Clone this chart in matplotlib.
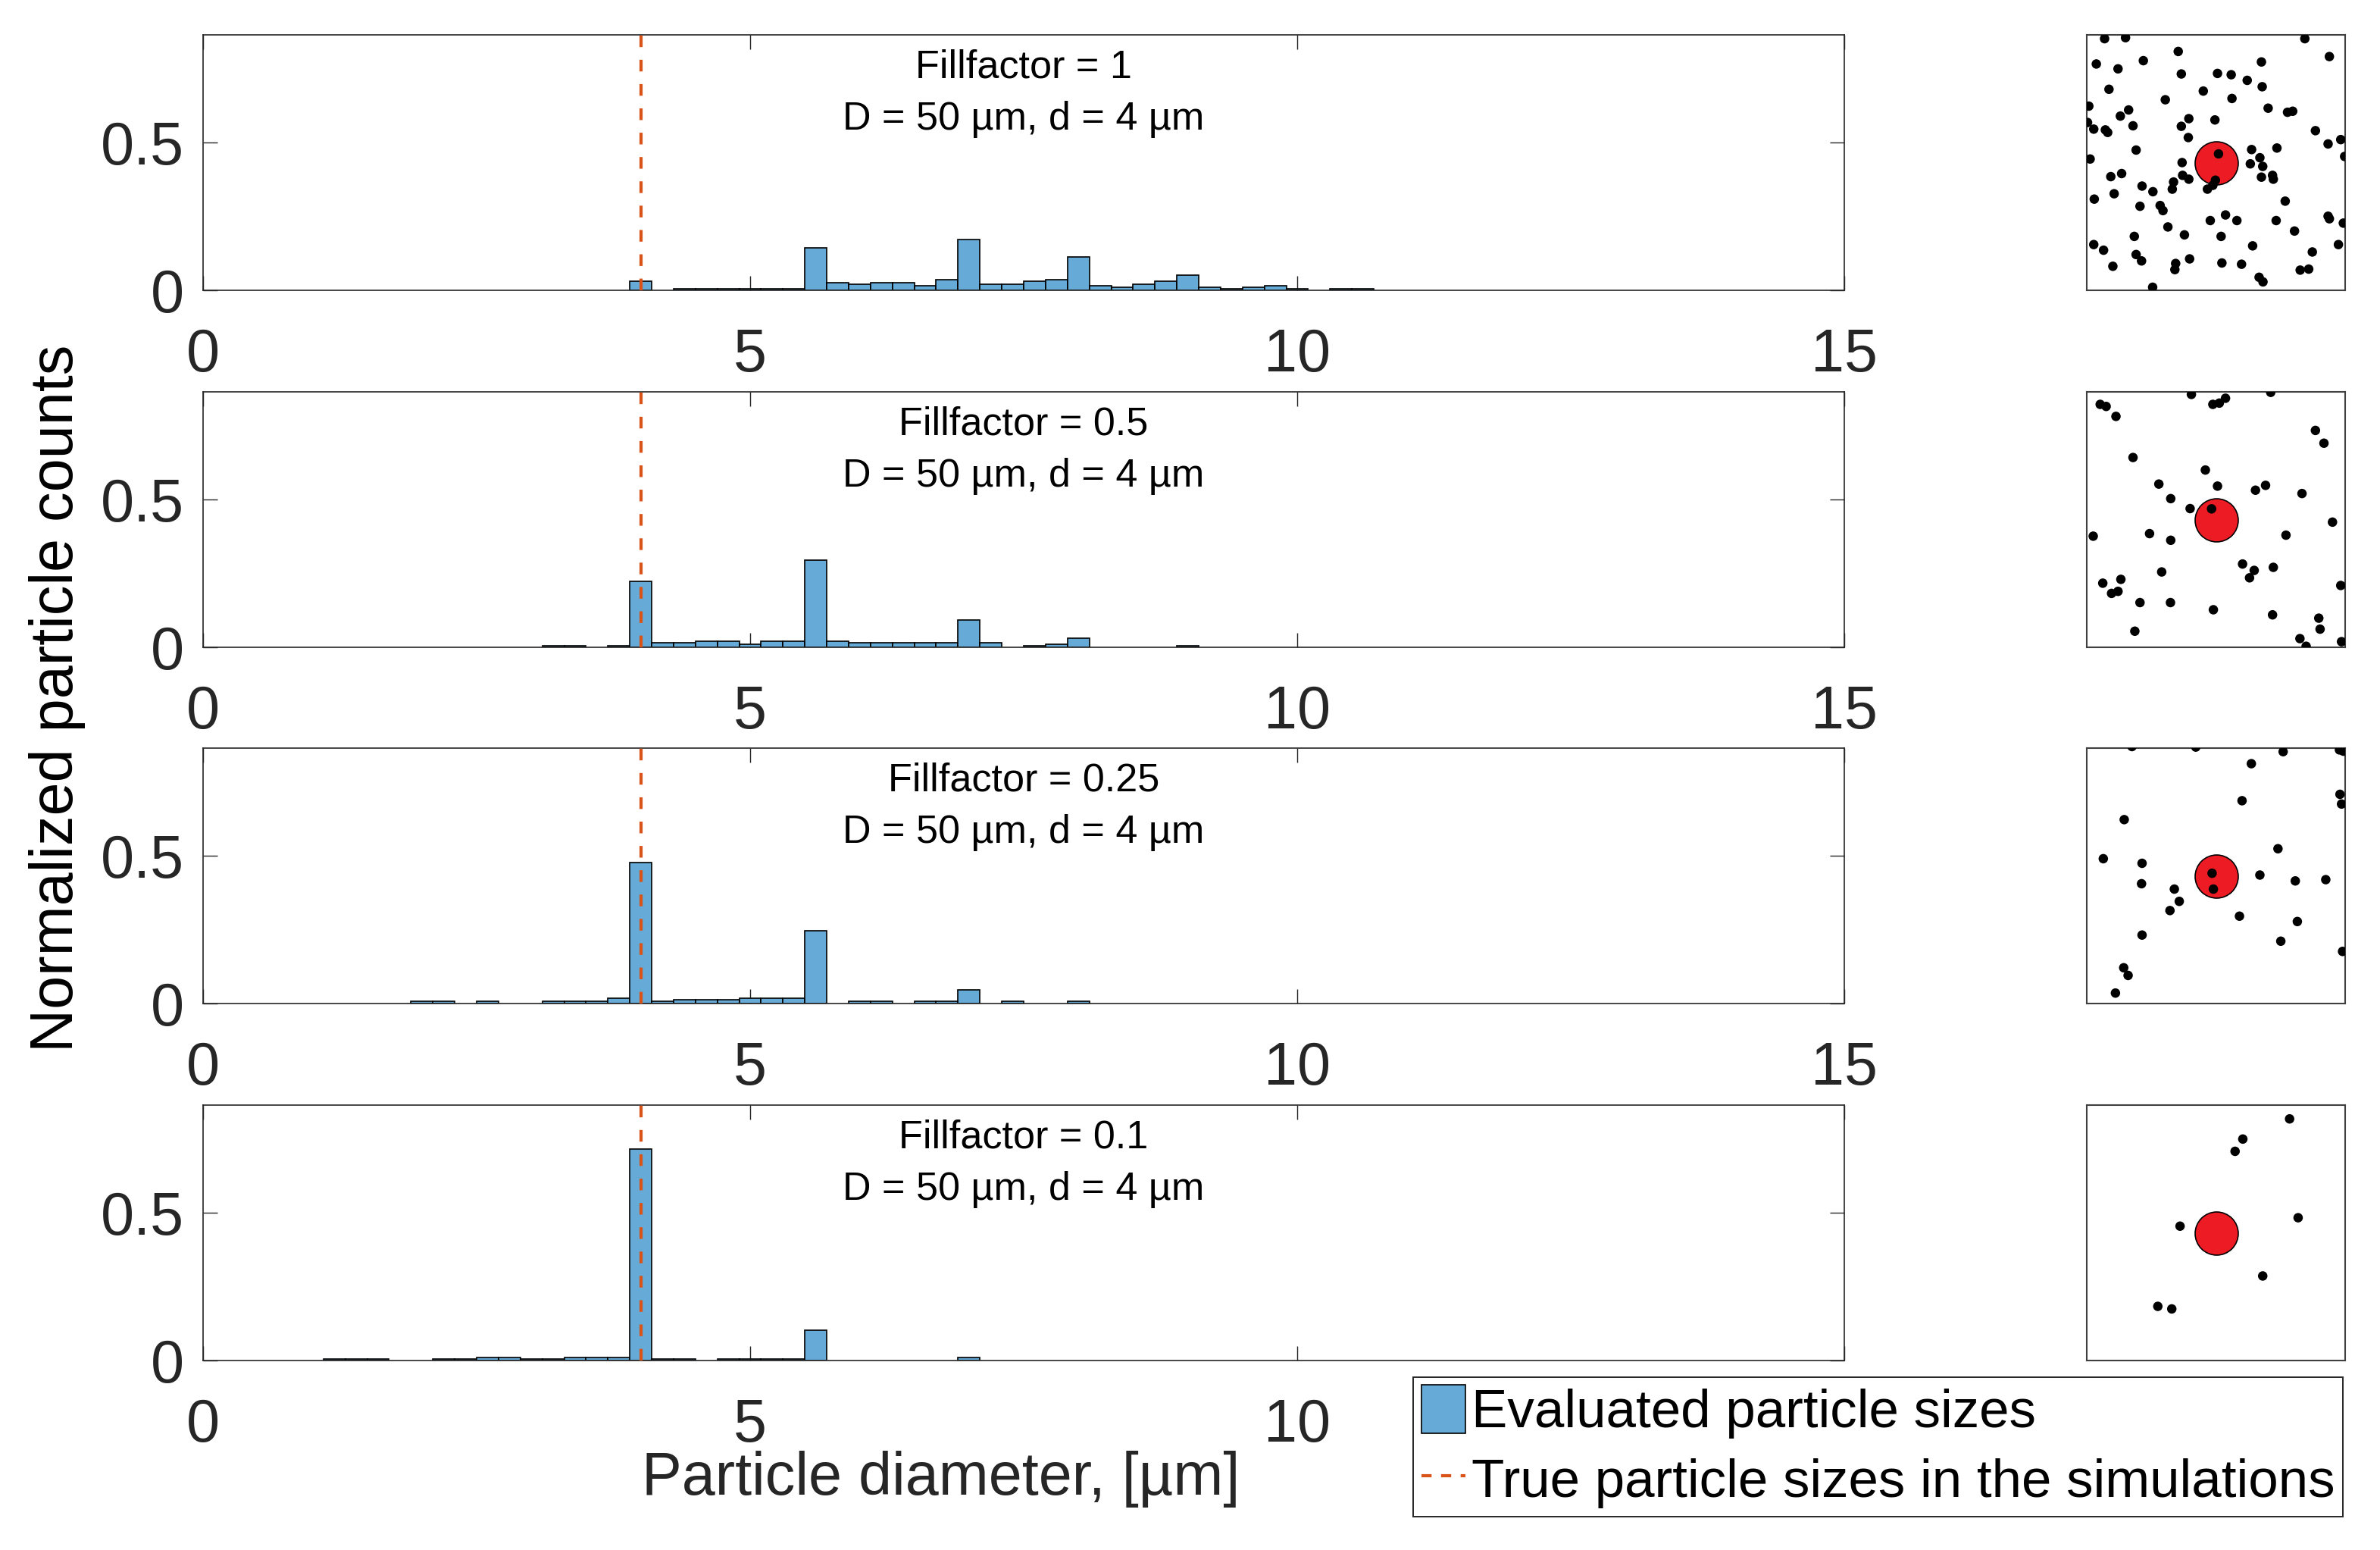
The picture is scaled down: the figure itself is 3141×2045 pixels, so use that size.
import numpy as np
import matplotlib
matplotlib.use("Agg")
import matplotlib.pyplot as plt
from matplotlib.patches import Patch
from matplotlib.lines import Line2D

plt.rcParams['font.family'] = ['Liberation Sans', 'DejaVu Sans']

# ------------------------- data -------------------------
bin_width = 0.2          # um
true_size = 4.0          # um
fillfactors = ['1', '0.5', '0.25', '0.1']

# non-empty histogram bins (bin centres in um, normalized counts)
centers_ff1 = [4.0, 4.4, 4.6, 4.8, 5.0, 5.2, 5.4, 5.6, 5.8, 6.0, 6.2, 6.4, 6.6, 6.8,
               7.0, 7.2, 7.4, 7.6, 7.8, 8.0, 8.2, 8.4, 8.6, 8.8, 9.0, 9.2, 9.4, 9.6,
               9.8, 10.0, 10.4, 10.6]
counts_ff1 = [0.031, 0.006, 0.006, 0.006, 0.006, 0.006, 0.006, 0.143, 0.026, 0.021,
              0.026, 0.026, 0.015, 0.036, 0.173, 0.021, 0.021, 0.031, 0.036, 0.113,
              0.015, 0.010, 0.021, 0.031, 0.051, 0.010, 0.006, 0.010, 0.015, 0.006,
              0.006, 0.006]

centers_ff05 = [3.2, 3.4, 3.8, 4.0, 4.2, 4.4, 4.6, 4.8, 5.0, 5.2, 5.4, 5.6, 5.8, 6.0,
                6.2, 6.4, 6.6, 6.8, 7.0, 7.2, 7.6, 7.8, 8.0, 9.0]
counts_ff05 = [0.004, 0.004, 0.004, 0.223, 0.015, 0.015, 0.021, 0.021, 0.009, 0.021,
               0.021, 0.296, 0.021, 0.015, 0.015, 0.015, 0.015, 0.015, 0.092, 0.015,
               0.004, 0.009, 0.030, 0.004]

centers_ff025 = [2.0, 2.2, 2.6, 3.2, 3.4, 3.6, 3.8, 4.0, 4.2, 4.4, 4.6, 4.8, 5.0, 5.2,
                 5.4, 5.6, 6.0, 6.2, 6.6, 6.8, 7.0, 7.4, 8.0]
counts_ff025 = [0.007, 0.007, 0.007, 0.007, 0.007, 0.007, 0.017, 0.478, 0.007, 0.012,
                0.012, 0.012, 0.017, 0.017, 0.017, 0.246, 0.007, 0.007, 0.007, 0.007,
                0.047, 0.007, 0.007]

centers_ff01 = [1.2, 1.4, 1.6, 2.2, 2.4, 2.6, 2.8, 3.0, 3.2, 3.4, 3.6, 3.8, 4.0, 4.2,
                4.4, 4.8, 5.0, 5.2, 5.4, 5.6, 7.0]
counts_ff01 = [0.004, 0.004, 0.004, 0.004, 0.004, 0.009, 0.009, 0.004, 0.004, 0.009,
               0.009, 0.009, 0.715, 0.004, 0.004, 0.004, 0.004, 0.004, 0.004, 0.102,
               0.009]

# simulated particle positions in the snapshots (% of field of view)
big_particle = (50, 50)

dots_ff1 = [(6.9, 98.5), (15.0, 98.9), (84.4, 98.5), (35.4, 93.5), (93.9, 91.5),
            (3.7, 88.6), (12.1, 86.7), (21.9, 89.9), (67.6, 89.4), (36.6, 84.7),
            (50.6, 84.9), (55.9, 84.4), (62.1, 82.2), (67.9, 79.7), (8.6, 78.7),
            (45.1, 78.0), (56.2, 75.1), (30.4, 74.6), (0.8, 72.1), (16.2, 70.6),
            (13.0, 68.2), (70.2, 71.3), (77.7, 69.7), (79.7, 70.1), (39.5, 67.2),
            (49.6, 66.7), (36.6, 64.2), (17.9, 64.4), (0.3, 65.7), (2.7, 63.1),
            (7.2, 62.8), (8.1, 61.8), (39.3, 59.8), (88.5, 62.5), (98.3, 59.0),
            (93.4, 57.3), (19.1, 54.9), (63.8, 55.1), (73.6, 55.7), (1.3, 51.4),
            (99.8, 52.4), (51.0, 53.4), (36.9, 50.0), (67.0, 51.9), (63.3, 49.5),
            (68.1, 48.5), (13.5, 45.7), (9.3, 44.5), (37.1, 45.0), (39.5, 43.5),
            (33.6, 42.4), (33.1, 39.6), (49.8, 43.1), (48.8, 41.1), (46.7, 39.6),
            (67.6, 44.3), (71.9, 45.0), (72.2, 43.5), (21.4, 40.8), (25.6, 38.6),
            (10.6, 37.8), (2.9, 35.7), (76.8, 34.9), (20.6, 32.9), (28.4, 33.2),
            (29.5, 31.2), (53.7, 29.5), (47.8, 27.3), (58.1, 27.3), (73.3, 27.3),
            (93.4, 29.0), (93.9, 28.0), (99.3, 26.3), (31.4, 24.8), (37.8, 21.7),
            (52.0, 21.1), (18.4, 21.1), (80.4, 23.2), (2.7, 17.9), (6.5, 15.7),
            (64.2, 17.4), (97.4, 17.9), (87.3, 15.0), (19.1, 14.0), (21.2, 11.5),
            (39.8, 12.3), (34.4, 10.5), (34.1, 8.1), (52.3, 10.7), (59.9, 10.2),
            (10.1, 9.4), (82.6, 7.9), (85.9, 8.3), (66.7, 5.1), (68.2, 3.3),
            (25.5, 1.2)]

dots_ff05 = [(40.5, 99.0), (48.8, 95.1), (51.3, 95.6), (53.7, 97.5), (71.2, 99.8),
             (5.2, 95.1), (7.5, 94.3), (11.3, 90.4), (88.5, 84.9), (91.8, 79.9),
             (17.9, 74.3), (45.9, 69.4), (27.9, 63.9), (50.6, 63.1), (65.3, 61.5),
             (69.2, 63.4), (83.3, 60.2), (32.5, 58.2), (40.0, 54.3), (48.3, 54.2),
             (95.1, 49.0), (2.5, 43.5), (24.3, 44.5), (32.5, 41.9), (77.1, 43.9),
             (60.3, 32.6), (64.8, 30.1), (63.0, 27.2), (72.2, 31.3), (29.0, 29.5),
             (6.2, 25.1), (13.2, 26.6), (9.6, 21.1), (12.1, 21.9), (98.3, 24.2),
             (20.6, 17.5), (32.4, 17.5), (49.0, 14.7), (71.9, 12.7), (89.8, 11.4),
             (90.3, 7.1), (18.6, 6.3), (82.5, 3.4), (84.9, 0.4), (98.6, 2.2)]

dots_ff025 = [(17.5, 100.6), (42.2, 100.4), (76.0, 98.6), (97.8, 99.3), (99.3, 98.8),
              (63.7, 93.9), (98.0, 81.9), (98.6, 78.1), (60.1, 79.4), (14.5, 72.0),
              (74.0, 60.6), (6.4, 56.7), (21.4, 54.9), (48.5, 51.0), (49.0, 44.8),
              (67.0, 50.3), (80.7, 48.0), (92.5, 48.5), (21.2, 46.9), (33.9, 44.8),
              (35.8, 40.0), (32.2, 36.4), (59.1, 34.2), (81.5, 32.1), (21.4, 26.8),
              (75.1, 24.4), (99.0, 20.4), (14.3, 14.0), (16.0, 11.0), (11.1, 4.1)]

dots_ff01 = [(78.5, 94.6), (60.4, 86.7), (57.4, 81.9), (36.1, 52.6), (81.8, 55.9),
             (68.1, 33.1), (27.5, 21.2), (32.9, 20.2)]

centers_all = [centers_ff1, centers_ff05, centers_ff025, centers_ff01]
counts_all = [counts_ff1, counts_ff05, counts_ff025, counts_ff01]
dots_all = [dots_ff1, dots_ff05, dots_ff025, dots_ff01]

# ------------------------- style -------------------------
bar_color = '#66AAD7'
line_color = '#D95319'
axis_color = '#262626'

W, H = 3141, 2045
fig = plt.figure(figsize=(W / 100, H / 100), dpi=100)


def px_box(left, top, width, height):
    # pixel box (from top-left) -> figure fraction rect
    return [left / W, 1 - (top + height) / H, width / W, height / H]


panel_tops = [46, 517, 987, 1458]
panel_h = 337

for i in range(4):
    ax = fig.add_axes(px_box(268, panel_tops[i], 2166, panel_h))
    ax.bar(centers_all[i], counts_all[i], width=bin_width, color=bar_color,
           edgecolor='black', linewidth=1.2, zorder=2)
    ax.axvline(true_size, color=line_color, linestyle=(0, (3.7, 4.0)),
               linewidth=3, zorder=3)
    ax.set_xlim(0, 15)
    ax.set_ylim(0, 0.865)
    ax.set_xticks([0, 5, 10, 15])
    if i < 3:
        ax.set_xticklabels(['0', '5', '10', '15'])
    else:
        # the "15" of the last panel sits under the legend
        ax.set_xticklabels(['0', '5', '10', ''])
    ax.set_yticks([0, 0.5])
    ax.set_yticklabels(['0', '0.5'])
    ax.tick_params(direction='in', length=14, width=1, top=True, right=True,
                   labelsize=57, colors=axis_color)
    ax.tick_params(axis='x', pad=35)
    ax.tick_params(axis='y', pad=18)
    for s in ax.spines.values():
        s.set_color(axis_color)
        s.set_linewidth(1.2)

    ax.text(0.5, 1 - 56.6 / panel_h, 'Fillfactor = ' + fillfactors[i],
            transform=ax.transAxes, ha='center', va='baseline', fontsize=37.5)
    ax.text(0.5, 1 - 124.6 / panel_h, 'D = 50 µm, d = 4 µm',
            transform=ax.transAxes, ha='center', va='baseline', fontsize=37.5)

    # snapshot of the simulated field
    ins = fig.add_axes(px_box(2754, panel_tops[i], 341, panel_h))
    ins.scatter([big_particle[0]], [big_particle[1]], s=1681, color='#ED1C24',
                edgecolors='black', linewidths=1.2, zorder=2)
    dx = [p[0] for p in dots_all[i]]
    dy = [p[1] for p in dots_all[i]]
    ins.scatter(dx, dy, s=81, color='black', edgecolors='none', zorder=3)
    ins.set_xlim(0, 100)
    ins.set_ylim(0, 100)
    ins.set_xticks([])
    ins.set_yticks([])
    for s in ins.spines.values():
        s.set_color('#404040')
        s.set_linewidth(1.5)

fig.text(1242 / W, 1 - 1971.6 / H, 'Particle diameter, [µm]', ha='center',
         va='baseline', fontsize=57, color=axis_color)
fig.text(76 / W, 1 - 921 / H, 'Normalized particle counts', ha='center',
         va='center', rotation=90, fontsize=57, color='black')

handles = [Patch(facecolor=bar_color, edgecolor='black', linewidth=1.2),
           Line2D([], [], color=line_color, linestyle=(0, (3.2, 3.0)), linewidth=3)]
labels = ['Evaluated particle sizes', 'True particle sizes in the simulations']
leg = fig.legend(handles, labels, loc='lower left',
                 bbox_to_anchor=(1865 / W, 1 - 2001 / H), borderaxespad=0,
                 fontsize=51, handlelength=0.82, handleheight=1.0,
                 handletextpad=0.12, borderpad=0.15, labelspacing=0.3,
                 fancybox=False, framealpha=1, edgecolor=axis_color)
leg.get_frame().set_linewidth(1.4)

fig.savefig('out.png', dpi=100)
